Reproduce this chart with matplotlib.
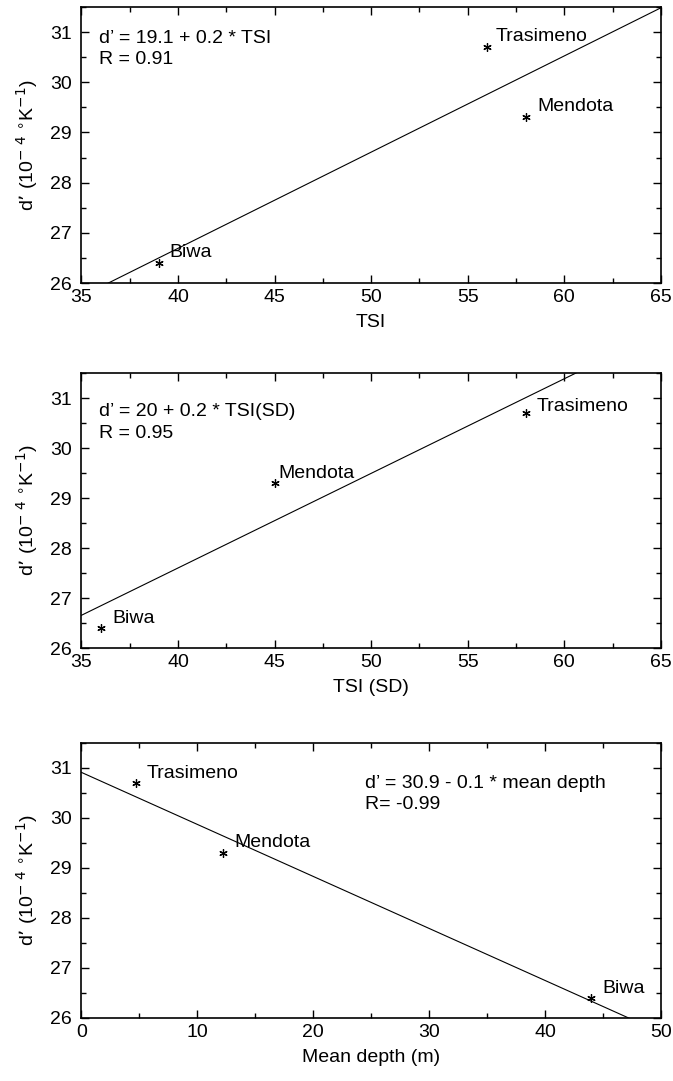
import numpy as np
import matplotlib
matplotlib.use('Agg')
import matplotlib.pyplot as plt
from matplotlib.ticker import MultipleLocator

plt.rcParams['font.family'] = ['Liberation Sans', 'DejaVu Sans']

lakes = ["Biwa", "Mendota", "Trasimeno"]
d_prime = [26.4, 29.3, 30.7]

tsi = [39.0, 58.0, 56.0]
tsi_sd = [36.0, 45.0, 58.0]
mean_depth = [44.0, 12.2, 4.7]

x_labels = ["TSI", "TSI (SD)", "Mean depth (m)"]
x_limits = [(35, 65), (35, 65), (0, 50)]
x_major = [5, 5, 10]
x_minor = [2.5, 2.5, 5]
equations = ["d’ = 19.1 + 0.2 * TSI\nR = 0.91",
             "d’ = 20 + 0.2 * TSI(SD)\nR = 0.95",
             "d’ = 30.9 - 0.1 * mean depth\nR= -0.99"]
eq_pos = [(0.030, 0.917), (0.030, 0.89), (0.49, 0.884)]
# label offsets in points (dx, dy) for Biwa, Mendota, Trasimeno
label_offsets = [
    [(7.5, 4.3), (8.5, 4.5), (6.2, 4.3)],
    [(8.3, 3.6), (2.5, 4.0), (7.7, 1.7)],
    [(7.7, 3.6), (8.6, 4.0), (8.0, 3.8)],
]

ylabel = r"d’ (10$^{-\ 4}$ $^{\circ}$K$^{-1}$)"

fig = plt.figure(figsize=(6.73, 10.81), dpi=100)
rects = [
    [0.121, 0.7382, 0.861, 0.2553],
    [0.121, 0.4005, 0.861, 0.2544],
    [0.121, 0.0583, 0.861, 0.2544],
]

for i, xs in enumerate([tsi, tsi_sd, mean_depth]):
    ax = fig.add_axes(rects[i])
    x0, x1 = x_limits[i]

    # regression line through the three lakes
    slope, icpt = np.polyfit(xs, d_prime, 1)
    xx = np.array([x0, x1])
    ax.plot(xx, icpt + slope * xx, color='black', linewidth=0.8)

    ax.plot(xs, d_prime, linestyle='none', marker=(6, 2, 0), markersize=6,
            markeredgewidth=0.9, color='black')

    for j, name in enumerate(lakes):
        ax.annotate(name, (xs[j], d_prime[j]), xytext=label_offsets[i][j],
                    textcoords='offset points', fontsize=14, va='baseline', ha='left')

    ax.text(eq_pos[i][0], eq_pos[i][1], equations[i], transform=ax.transAxes,
            fontsize=14, va='top', ha='left', linespacing=1.35)

    ax.set_xlim(x0, x1)
    ax.set_ylim(26, 31.5)
    ax.xaxis.set_major_locator(MultipleLocator(x_major[i]))
    ax.xaxis.set_minor_locator(MultipleLocator(x_minor[i]))
    ax.yaxis.set_major_locator(MultipleLocator(1))
    ax.yaxis.set_minor_locator(MultipleLocator(0.5))
    ax.tick_params(which='both', direction='in', top=True, right=True, labelsize=14, width=1.0)
    ax.tick_params(which='major', length=6)
    ax.tick_params(which='minor', length=3.5)
    ax.tick_params(axis='x', which='major', pad=4)
    ax.tick_params(axis='y', which='major', pad=7)
    for s in ax.spines.values():
        s.set_linewidth(1.2)

    ax.set_xlabel(x_labels[i], fontsize=14, labelpad=6)
    ax.set_ylabel(ylabel, fontsize=14, labelpad=7)

fig.savefig("out.png", dpi=100)
